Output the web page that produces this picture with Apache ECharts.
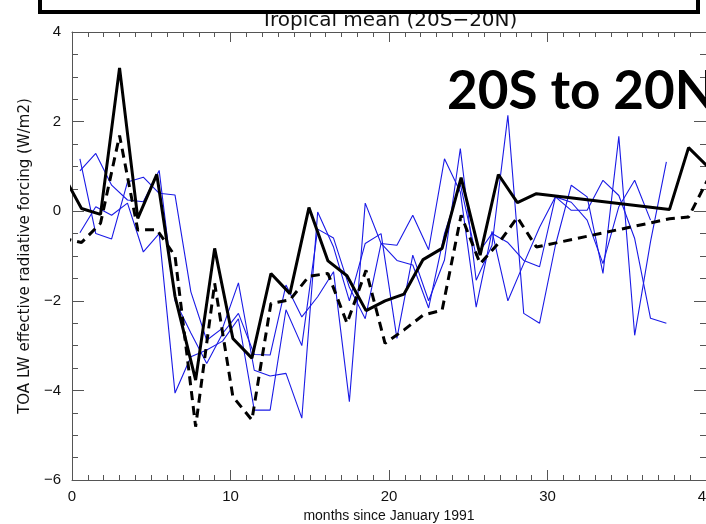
<!DOCTYPE html>
<html>
<head>
<meta charset="utf-8">
<script src="https://cdn.jsdelivr.net/npm/echarts@6/dist/echarts.min.js"></script>
<style>
html,body{margin:0;padding:0;background:#fff;}
#c{width:706px;height:524px;}
</style>
</head>
<body>
<div id="c"></div>
<script>
// ---- data ----
const titleText = "Tropical mean (20S\u221220N)";
const overlayText = "20S to 20N";
const xAxisTitle = "months since January 1991";
const yAxisTitle = "TOA LW effective radiative forcing (W/m2)";

// black lines (sampled at ~1.2-month steps)
const blackX = [-0.6, 0.6, 1.8, 3.0, 4.15, 5.35, 6.5, 7.8, 9.0, 10.15, 11.35, 12.55, 13.75, 14.95, 16.15, 17.35, 18.55, 19.75, 20.95, 22.15, 23.35, 24.55, 25.75, 26.9, 28.1, 29.3, 37.7, 38.9, 40.1];
const solidY = [0.84, 0.06, -0.07, 3.2, -0.16, 0.82, -1.9, -3.77, -0.83, -2.84, -3.28, -1.39, -1.84, 0.08, -1.11, -1.44, -2.22, -2.0, -1.85, -1.08, -0.83, 0.75, -0.98, 0.82, 0.19, 0.39, 0.04, 1.42, 1.0];
const dashedY = [-0.6, -0.7, -0.27, 1.69, -0.42, -0.41, -1.0, -4.81, -1.61, -4.14, -4.66, -2.06, -1.98, -1.45, -1.39, -2.5, -1.32, -2.95, -2.65, -2.32, -2.21, -0.09, -1.17, -0.72, -0.14, -0.8, -0.17, -0.13, 0.7];

// blue lines (monthly, mid-month)
const blueX = [0.5,1.5,2.5,3.5,4.5,5.5,6.5,7.5,8.5,9.5,10.5,11.5,12.5,13.5,14.5,15.5,16.5,17.5,18.5,19.5,20.5,21.5,22.5,23.5,24.5,25.5,26.5,27.5,28.5,29.5,30.5,31.5,32.5,33.5,34.5,35.5,36.5,37.5];
const blueA = [1.17, -0.5, -0.62, 0.65, 0.76, 0.4, 0.36, -1.8, -2.88, -2.61, -1.6, -3.55, -3.68, -3.62, -4.62, -0.02, -0.8, -2.0, -0.72, -0.5, -2.84, -0.98, -2.0, -1.09, 1.4, -1.54, -0.76, 2.14, -2.28, -2.5, -0.76, 0.58, 0.32, -1.39, 1.67, -2.77, -0.68, 1.1];
const blueB = [0.90, 1.29, 0.58, 0.25, 0.21, 0.91, -2.0, -2.72, -3.4, -2.73, -2.28, -3.2, -3.21, -1.65, -2.36, -1.91, -1.35, -4.25, 0.18, -0.72, -0.76, -0.09, -0.86, 1.17, 0.43, -2.14, -0.45, -2.0, -1.17, -0.36, 0.32, 0.02, 0.02, 0.69, 0.35, -0.61, -2.39, -2.5];
const blueC = [-0.48, 0.1, -0.09, 0.18, -0.91, -0.5, -4.06, -3.25, -3.1, -2.9, -2.4, -4.44, -4.44, -2.2, -3.0, -0.4, -0.6, -1.7, -2.4, -0.72, -1.1, -1.2, -2.16, -0.5, 0.6, -1.0, -0.5, -0.7, -1.1, -1.24, 0.32, 0.2, -0.2, -1.17, 0.1, 0.69, -0.2, null];

const xTicks = {min: 0, max: 40, interval: 10};
const yTicks = {min: -6, max: 4, interval: 2};

// ---- build ----
function pairs(xs, ys){ return xs.map((x,i)=>[x, ys[i]]); }
const fontFam = "'Liberation Sans', 'DejaVu Sans', sans-serif";
const axisCol = '#555';

function xAx(pos, showLabels){
  return {
    type:'value', position:pos, min:xTicks.min, max:xTicks.max, interval:xTicks.interval,
    axisLine:{show:true, onZero:false, lineStyle:{color:axisCol, width:1}},
    axisTick:{show:true, inside:true, length:10, lineStyle:{color:axisCol}},
    minorTick:{show:true, splitNumber:10, length:5, lineStyle:{color:axisCol}},
    splitLine:{show:false},
    axisLabel:{show:showLabels, color:'#111', fontFamily:fontFam, fontSize:15, margin:9,
      formatter: v => String(v).replace('-', '\u2212')},
    name: showLabels ? xAxisTitle : '', nameLocation:'middle', nameGap:27,
    nameTextStyle:{color:'#111', fontFamily:fontFam, fontSize:14}
  };
}
function yAx(pos, showLabels){
  return {
    type:'value', position:pos, min:yTicks.min, max:yTicks.max, interval:yTicks.interval,
    axisLine:{show:true, onZero:false, lineStyle:{color:axisCol, width:1}},
    axisTick:{show:true, inside:true, length:12, lineStyle:{color:axisCol}},
    minorTick:{show:true, splitNumber:4, length:6, lineStyle:{color:axisCol}},
    splitLine:{show:false},
    axisLabel:{show:showLabels, color:'#111', fontFamily:fontFam, fontSize:15, margin:11,
      formatter: v => String(v).replace('-', '\u2212')},
    name: showLabels ? yAxisTitle : '', nameLocation:'middle', nameGap:32,
    nameTextStyle:{color:'#111', fontFamily:"'DejaVu Sans', sans-serif", fontSize:15}
  };
}

const blueStyle = {color:'#1a1ae6', width:1.1};
const chart = echarts.init(document.getElementById('c'), null, {renderer:'canvas'});
chart.setOption({
  animation:false,
  backgroundColor:'#fff',
  grid:{left:72, right:0, top:32, bottom:44, containLabel:false, outerBoundsMode:'none'},
  xAxis:[xAx('bottom', true), xAx('top', false)],
  yAxis:[yAx('left', true), yAx('right', false)],
  series:[
    {type:'line', data:pairs(blueX, blueA), symbol:'none', lineStyle:blueStyle, clip:true},
    {type:'line', data:pairs(blueX, blueB), symbol:'none', lineStyle:blueStyle, clip:true},
    {type:'line', data:pairs(blueX, blueC), symbol:'none', lineStyle:blueStyle, clip:true},
    {type:'line', data:pairs(blackX, dashedY), symbol:'none', clip:true,
      lineStyle:{color:'#000', width:3, type:[9,6]}},
    {type:'line', data:pairs(blackX, solidY), symbol:'none', clip:true,
      lineStyle:{color:'#000', width:3}}
  ],
  graphic:[
    {type:'text', x:389, y:21, z:10,
      style:{text:titleText, fill:'#111', font:"20px 'DejaVu Sans', sans-serif", textAlign:'center', textVerticalAlign:'middle'}},
    {type:'rect', z:20, shape:{x:40, y:-10, width:658, height:22},
      style:{fill:'#fff', stroke:'#000', lineWidth:4}},
    {type:'text', x:447, y:92, z:30,
      style:{text:overlayText, fill:'#000', font:"bold 53px Lato, 'Open Sans', sans-serif", textAlign:'left', textVerticalAlign:'middle'}}
  ]
});
</script>
</body>
</html>
